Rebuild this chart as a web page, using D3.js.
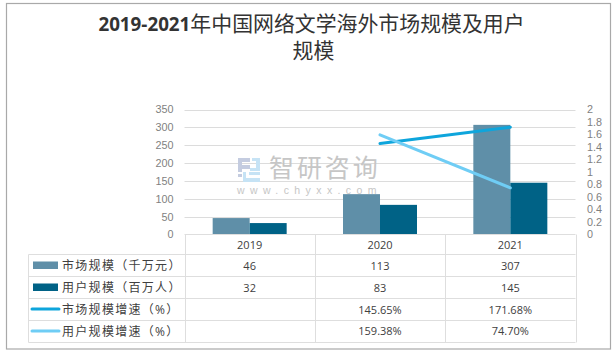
<!DOCTYPE html>
<html><head><meta charset="utf-8">
<script src="https://cdnjs.cloudflare.com/ajax/libs/d3/7.8.5/d3.min.js"></script>
<style>html,body{margin:0;padding:0;background:#fff}svg{display:block}
text{font-family:"Open Sans","Noto Sans CJK SC",sans-serif}</style></head><body>
<svg id="c" width="615" height="353"></svg>
<script>
const years = ["2019","2020","2021"];
const marketSize = [46,113,307];
const userSize = [32,83,145];
const marketGrowth = [null,1.4565,1.7168];
const userGrowth = [null,1.5938,0.7470];
const marketGrowthLabels = ["","145.65%","171.68%"];
const userGrowthLabels = ["","159.38%","74.70%"];
const leftTicks = [0,50,100,150,200,250,300,350];
const rightTicks = [0,0.2,0.4,0.6,0.8,1,1.2,1.4,1.6,1.8,2];
const rowNames = ["市场规模（千万元）","用户规模（百万人）","市场规模增速（%）","用户规模增速（%）"];
const colors = ["#5f8fa8","#006286","#0ea5dc","#6fcdf5"];
const titleLines = [["2019-2021","年中国网络文学海外市场规模及用户"],["","规模"]];

const svg = d3.select("#c");
const L=184.5,R=575.5,T=109.5,B=234.5,TL=28.5;
const x = d3.scaleBand().domain(years).range([L,R]);
const xb = d3.scaleBand().domain([0,1]).range([0,74]);
const yL = d3.scaleLinear().domain([0,350]).range([B,T]);
const yR = d3.scaleLinear().domain([0,2]).range([B,T]);
const rowYs = [254.5,276.5,298.5,320.5,342.5];

svg.append("rect").attr("x",6.5).attr("y",3.5).attr("width",604).attr("height",345.5)
  .attr("fill","#fff").attr("stroke","#a9a9a9").attr("stroke-width",1.2);

const title = svg.append("g");
titleLines.forEach((ln,i)=>{
  const t = title.append("text").attr("x",i?313.5:311.5).attr("y",[31,58][i]).attr("text-anchor","middle")
    .attr("fill","#333").attr("font-size",20.9);
  if(ln[0]) t.append("tspan").attr("font-weight",700).attr("font-size",18.8).style("font-family","Open Sans").text(ln[0]);
  t.append("tspan").text(ln[1]);
});

// gridlines
svg.append("g").selectAll("line").data(leftTicks.filter(d=>d>0)).join("line")
  .attr("x1",L).attr("x2",R).attr("y1",d=>Math.round(yL(d))+.5).attr("y2",d=>Math.round(yL(d))+.5)
  .attr("stroke","#dcdcdc").attr("stroke-width",1);

// left and right axes via d3.axis
const axL = svg.append("g").attr("transform",`translate(${L},0)`)
  .call(d3.axisLeft(yL).tickValues(leftTicks).tickSize(0).tickPadding(11));
const axR = svg.append("g").attr("transform",`translate(${R},0)`)
  .call(d3.axisRight(yR).tickValues(rightTicks).tickSize(0).tickPadding(11.5).tickFormat(d3.format("~g")));
[axL,axR].forEach(a=>{a.select(".domain").remove();
  a.selectAll("text").attr("fill","#7f7f7f").attr("font-size",10.8).style("font-family","'Liberation Sans'");});

// bars
const barG = svg.append("g");
[marketSize,userSize].forEach((vals,s)=>{
  barG.selectAll(null).data(vals).join("rect")
    .attr("x",(d,i)=>x(years[i])+x.bandwidth()/2-37+xb(s))
    .attr("width",xb.bandwidth())
    .attr("y",d=>yL(d)).attr("height",d=>B-yL(d)).attr("fill",colors[s]);
});

// watermark
const wm = svg.append("g");
wm.append("path").attr("d","M238 158h12v4h-8v3h8v4h-8v3h-4z M238 174h4v3h-4z").attr("fill","#c4cce0");
wm.append("path").attr("d","M252 158h8v13h-10v-3h6v-7h-4z M243 172h3v6h14v4h-17z M249 172h11v3h-11z").attr("fill","#c6e3f5");
wm.append("text").attr("x",269).attr("y",176.5).attr("font-size",25).attr("fill","#c6c6c6").attr("letter-spacing",2.9).style("font-family","'Noto Sans CJK SC'").text("智研咨询");
wm.append("text").attr("x",237).attr("y",193.5).attr("font-size",10.5).attr("fill","#c6c6c6").attr("letter-spacing",5.4).style("font-family","'Liberation Sans'").text("www.chyxx.com");

// lines
const line = d3.line().defined(d=>d.v!==null).x(d=>x(d.y)+x.bandwidth()/2).y(d=>yR(d.v));
[[marketGrowth,2],[userGrowth,3]].forEach(([vals,c])=>{
  svg.append("path").datum(vals.map((v,i)=>({y:years[i],v})))
    .attr("d",line).attr("fill","none").attr("stroke",colors[c]).attr("stroke-width",3).attr("stroke-linecap","round");
});

// table
const tg = svg.append("g").attr("stroke","#dedede").attr("stroke-width",1);
tg.append("line").attr("x1",L).attr("x2",R).attr("y1",B).attr("y2",B);
rowYs.forEach(y=>tg.append("line").attr("x1",TL).attr("x2",R).attr("y1",y).attr("y2",y));
tg.append("line").attr("x1",TL).attr("x2",TL).attr("y1",rowYs[0]).attr("y2",rowYs[4]);
[...years.map(y=>x(y)),R].forEach(v=>tg.append("line").attr("x1",Math.round(v)+.5).attr("x2",Math.round(v)+.5).attr("y1",B).attr("y2",rowYs[4]));

const cell=(px,py,s,anchor="middle",size=11)=>svg.append("text").attr("x",px).attr("y",py).attr("text-anchor",anchor)
  .attr("font-size",size).attr("fill","#404040").text(s);
years.forEach((yr,i)=>{
  const cx=x(yr)+x.bandwidth()/2;
  cell(cx,249,yr);
  cell(cx,270,marketSize[i]);
  cell(cx,292,userSize[i]);
  cell(cx,314,marketGrowthLabels[i]);
  cell(cx,335,userGrowthLabels[i]);
});
rowNames.forEach((n,i)=>{
  const cy=(rowYs[i]+rowYs[i+1])/2;
  const t=cell(62,cy+4,n,"start",12); t.attr("letter-spacing",1.3);
  if(i<2) svg.append("rect").attr("x",33).attr("y",cy-4).attr("width",25).attr("height",7.5).attr("fill",colors[i]);
  else svg.append("line").attr("x1",32).attr("x2",59).attr("y1",cy-.5).attr("y2",cy-.5).attr("stroke",colors[i]).attr("stroke-width",3).attr("stroke-linecap","round");
});
</script></body></html>
